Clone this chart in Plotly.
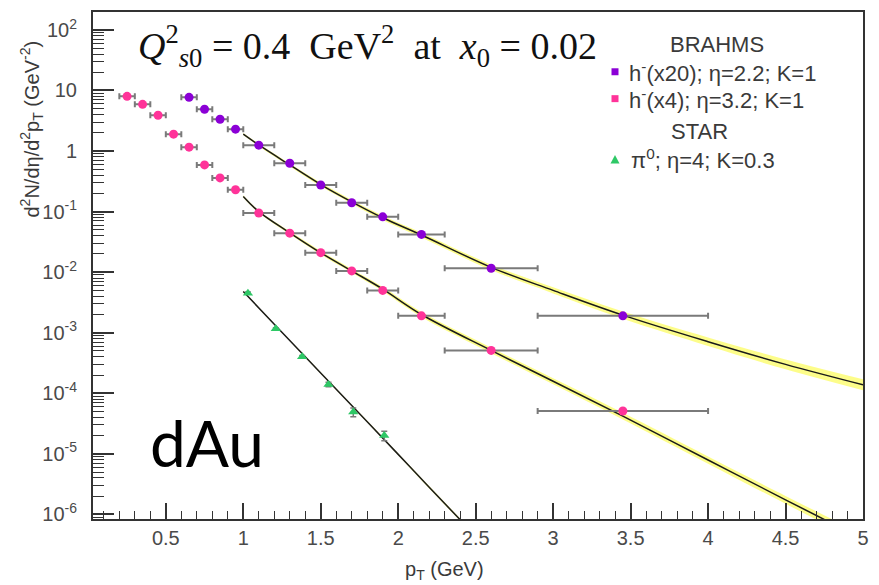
import plotly.graph_objects as go

# ---------------- data ----------------
# BRAHMS h- (x20), eta = 2.2
brahms22_pt = [0.65, 0.75, 0.85, 0.95, 1.1, 1.3, 1.5, 1.7, 1.9, 2.15, 2.6, 3.45]
brahms22_y = [7.7, 4.9, 3.35, 2.3, 1.25, 0.63, 0.275, 0.14, 0.082, 0.042, 0.0116, 0.0019]
brahms22_xerr = [0.05, 0.05, 0.05, 0.05, 0.1, 0.1, 0.1, 0.1, 0.1, 0.15, 0.3, 0.55]

# BRAHMS h- (x4), eta = 3.2
brahms32_pt = [0.25, 0.35, 0.45, 0.55, 0.65, 0.75, 0.85, 0.95, 1.1, 1.3, 1.5, 1.7, 1.9, 2.15, 2.6, 3.45]
brahms32_y = [8.0, 5.9, 3.9, 1.9, 1.16, 0.59, 0.36, 0.23, 0.095, 0.044, 0.021, 0.0105, 0.005, 0.0019, 0.00051, 5.1e-5]
brahms32_xerr = [0.05, 0.05, 0.05, 0.05, 0.05, 0.05, 0.05, 0.05, 0.1, 0.1, 0.1, 0.1, 0.1, 0.15, 0.3, 0.55]

# STAR pi0, eta = 4
star_pt = [1.03, 1.21, 1.38, 1.55, 1.71, 1.91]
star_y = [4.5e-3, 1.16e-3, 4.0e-4, 1.4e-4, 4.9e-5, 2.0e-5]
star_yerr = [2e-4, 5e-5, 2e-5, 1.2e-5, 8e-6, 3.5e-6]

# theory curves (centre) and band half-width in decades
curve22_pt = [1.0, 1.1, 1.3, 1.5, 1.7, 1.9, 2.15, 2.6, 3.0, 3.45, 4.0, 4.5, 5.0]
curve22_y = [1.9, 1.26, 0.59, 0.28, 0.145, 0.079, 0.041, 0.012, 0.005, 0.00195, 7.1e-4, 3.0e-4, 1.38e-4]
curve22_band = [0.02, 0.02, 0.025, 0.03, 0.03, 0.035, 0.04, 0.045, 0.05, 0.06, 0.07, 0.08, 0.09]

curve32_pt = [1.0, 1.1, 1.3, 1.5, 1.7, 1.9, 2.15, 2.6, 3.0, 3.45, 4.0, 4.5, 4.8]
curve32_y = [0.178, 0.1, 0.0447, 0.0209, 0.0105, 0.00525, 0.002, 5.1e-4, 1.58e-4, 4.2e-5, 7.9e-6, 1.74e-6, 7.1e-7]
curve32_band = [0.02, 0.02, 0.025, 0.03, 0.03, 0.035, 0.04, 0.045, 0.05, 0.055, 0.06, 0.065, 0.07]

curve40_pt = [1.0, 1.2, 1.4, 1.6, 1.8, 2.0, 2.2, 2.45]
curve40_y = [4.8e-3, 1.38e-3, 4.0e-4, 1.17e-4, 3.4e-5, 9.8e-6, 2.8e-6, 6e-7]
curve40_band = [0.01, 0.01, 0.012, 0.012, 0.015, 0.015, 0.02, 0.02]

# axis ticks
x_tickvals = [0.5, 1, 1.5, 2, 2.5, 3, 3.5, 4, 4.5, 5]
x_ticktext = ["0.5", "1", "1.5", "2", "2.5", "3", "3.5", "4", "4.5", "5"]
y_tickvals = [1e2, 1e1, 1, 1e-1, 1e-2, 1e-3, 1e-4, 1e-5, 1e-6]
y_ticktext = ["10<sup>2</sup>", "10", "1", "10<sup>-1</sup>", "10<sup>-2</sup>", "10<sup>-3</sup>",
              "10<sup>-4</sup>", "10<sup>-5</sup>", "10<sup>-6</sup>"]

# ---------------- styling ----------------
W, H = 879, 585
L, R, T, B = 93, 863, 10, 519
PURPLE = "#8B00D6"
PINK = "#FF3399"
GREEN = "#2EC866"
BAND = "rgba(252,252,60,0.6)"
ERR = "#7a7a7a"
TXT = "#3a3a3a"


def px(xp):
    return (xp - L) / (R - L)


def py(yp):
    return (B - yp) / (B - T)


fig = go.Figure()


def add_band(xs, ys, ws):
    up = [y * 10 ** w for y, w in zip(ys, ws)]
    lo = [y / 10 ** w for y, w in zip(ys, ws)]
    fig.add_trace(go.Scatter(x=xs, y=up, mode="lines", line=dict(width=0, shape="spline"),
                             hoverinfo="skip", showlegend=False))
    fig.add_trace(go.Scatter(x=xs, y=lo, mode="lines", line=dict(width=0, shape="spline"),
                             fill="tonexty", fillcolor=BAND, hoverinfo="skip", showlegend=False))


for xs, ys, ws in [(curve22_pt, curve22_y, curve22_band),
                   (curve32_pt, curve32_y, curve32_band),
                   (curve40_pt, curve40_y, curve40_band)]:
    add_band(xs, ys, ws)

for xs, ys in [(curve22_pt, curve22_y), (curve32_pt, curve32_y), (curve40_pt, curve40_y)]:
    fig.add_trace(go.Scatter(x=xs, y=ys, mode="lines",
                             line=dict(color="#1a1a1a", width=1.5, shape="spline"),
                             showlegend=False))

fig.add_trace(go.Scatter(
    x=brahms22_pt, y=brahms22_y, mode="markers",
    marker=dict(color=PURPLE, size=9, symbol="circle"),
    error_x=dict(type="data", array=brahms22_xerr, color=ERR, thickness=2, width=3),
    showlegend=False))
fig.add_trace(go.Scatter(
    x=brahms32_pt, y=brahms32_y, mode="markers",
    marker=dict(color=PINK, size=9, symbol="circle"),
    error_x=dict(type="data", array=brahms32_xerr, color=ERR, thickness=2, width=3),
    showlegend=False))
fig.add_trace(go.Scatter(
    x=star_pt, y=star_y, mode="markers",
    marker=dict(color=GREEN, size=9, symbol="triangle-up"),
    error_y=dict(type="data", array=star_yerr, color=ERR, thickness=1.5, width=3),
    showlegend=False))

# minor ticks
y_minor = [m * 10 ** e for e in range(-7, 3) for m in range(2, 10)]
x_minor = [round(0.1 * i, 1) for i in range(1, 51)]

axis_common = dict(showgrid=False, zeroline=False, showline=True, linecolor="#333333",
                   linewidth=2, mirror=True, ticks="inside", tickcolor="#333333",
                   tickfont=dict(family="Liberation Sans, Arial", size=20, color="#4a4a4a"))

fig.update_xaxes(range=[0.03, 5], tickvals=x_tickvals, ticktext=x_ticktext, ticklen=16,
                 tickwidth=1.5,
                 minor=dict(tickvals=x_minor, ticks="inside", ticklen=8, tickcolor="#333333", tickwidth=1.2),
                 **axis_common)
fig.update_yaxes(type="log", range=[-6.076, 2.296], tickvals=y_tickvals, ticktext=y_ticktext,
                 ticklen=21, tickwidth=1.5, ticklabelstandoff=10,
                 minor=dict(tickvals=y_minor, ticks="inside", ticklen=11, tickcolor="#333333", tickwidth=1.2),
                 **axis_common)

annotations = []
# big Q_s0 label
annotations.append(dict(
    x=px(136), y=py(44), xref="paper", yref="paper", xanchor="left", yanchor="middle",
    showarrow=False,
    text="<i>Q</i><sup>2</sup><sub><i>s</i>0</sub> = 0.4  GeV<sup>2</sup>  at  <i>x</i><sub>0</sub> = 0.02",
    font=dict(family="Liberation Serif, serif", size=38, color="#111111")))
# dAu
annotations.append(dict(
    x=px(207), y=py(442), xref="paper", yref="paper", xanchor="center", yanchor="middle",
    showarrow=False, text="dAu", font=dict(family="Lato, sans-serif", size=64, color="#000000")))

# legend texts
leg_font = dict(family="Liberation Sans, Arial", size=22, color=TXT)
annotations.append(dict(x=px(717), y=py(43), xref="paper", yref="paper", xanchor="center",
                        yanchor="middle", showarrow=False, text="BRAHMS", font=leg_font))
annotations.append(dict(x=px(627), y=py(70), xref="paper", yref="paper", xanchor="left",
                        yanchor="middle", showarrow=False,
                        text="h<sup>-</sup>(x20); η=2.2; K=1", font=leg_font))
annotations.append(dict(x=px(627), y=py(97), xref="paper", yref="paper", xanchor="left",
                        yanchor="middle", showarrow=False,
                        text="h<sup>-</sup>(x4); η=3.2; K=1", font=leg_font))
annotations.append(dict(x=px(699), y=py(130), xref="paper", yref="paper", xanchor="center",
                        yanchor="middle", showarrow=False, text="STAR", font=leg_font))
annotations.append(dict(x=px(629), y=py(158), xref="paper", yref="paper", xanchor="left",
                        yanchor="middle", showarrow=False,
                        text="π<sup>0</sup>; η=4; K=0.3", font=leg_font))

# axis titles
annotations.append(dict(x=px(32), y=py(128), xref="paper", yref="paper", xanchor="center",
                        yanchor="middle", showarrow=False, textangle=-90,
                        text="d<sup>2</sup>N/dη/d<sup>2</sup>p<sub>T</sub> (GeV<sup>-2</sup>)",
                        font=dict(family="Liberation Sans, Arial", size=20, color=TXT)))
annotations.append(dict(x=px(444), y=py(571), xref="paper", yref="paper", xanchor="center",
                        yanchor="middle", showarrow=False,
                        text="p<sub>T</sub> (GeV)",
                        font=dict(family="Liberation Sans, Arial", size=20, color=TXT)))

shapes = []
for (cx, cy, col) in [(615, 70, PURPLE), (615, 97, PINK)]:
    shapes.append(dict(type="rect", xref="paper", yref="paper",
                       x0=px(cx - 3.5), x1=px(cx + 3.5), y0=py(cy + 3.5), y1=py(cy - 3.5),
                       fillcolor=col, line=dict(width=0)))
# green legend triangle
tx, ty = 615, 158
shapes.append(dict(type="path", xref="paper", yref="paper",
                   path=f"M {px(tx-4.5)} {py(ty+4)} L {px(tx+4.5)} {py(ty+4)} L {px(tx)} {py(ty-4.5)} Z",
                   fillcolor=GREEN, line=dict(width=0)))

fig.update_layout(
    width=W, height=H,
    margin=dict(l=L, r=W - R, t=T, b=H - B),
    paper_bgcolor="white", plot_bgcolor="white",
    showlegend=False,
    annotations=annotations, shapes=shapes,
)

fig.write_html("out.html")
